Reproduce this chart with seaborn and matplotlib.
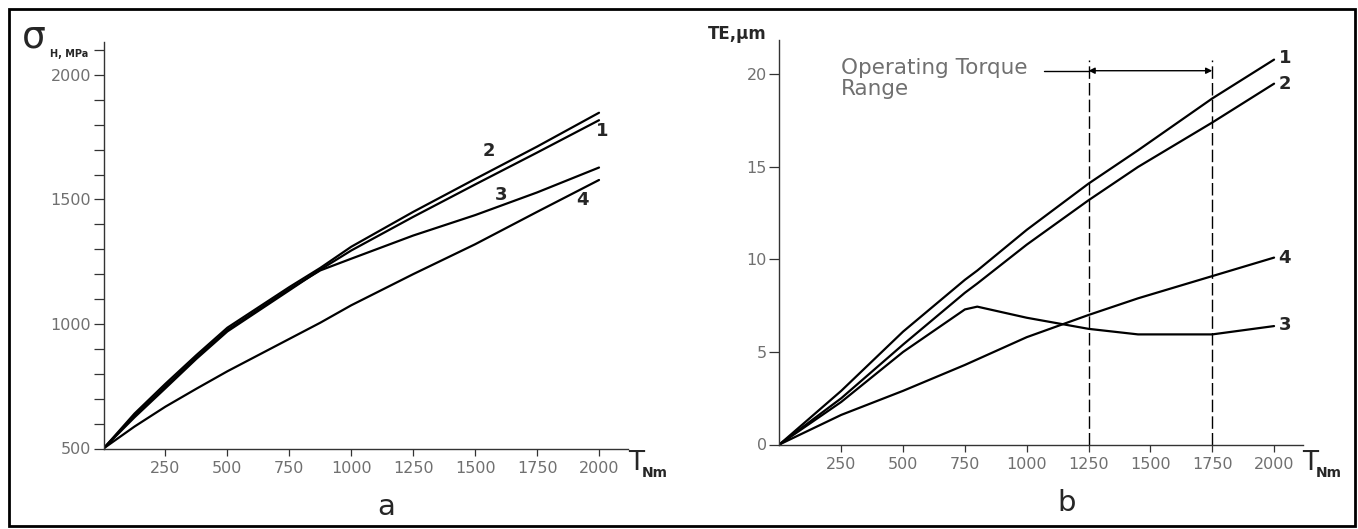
import matplotlib

matplotlib.use("Agg")
import matplotlib.pyplot as plt
import pandas as pd
import seaborn as sns
from matplotlib.patches import Rectangle
from matplotlib.ticker import MultipleLocator

# Panel a: contact stress sigma_H (MPa) against torque T (Nm)
torque_a = [0, 125, 250, 375, 500, 750, 875, 1000, 1250, 1500, 1750, 2000]
stress_1 = [500, 625, 742, 860, 970, 1135, 1218, 1295, 1430, 1560, 1688, 1818]
stress_2 = [500, 640, 760, 875, 985, 1148, 1225, 1310, 1450, 1582, 1712, 1848]
stress_3 = [500, 632, 750, 866, 976, 1140, 1215, 1262, 1355, 1437, 1528, 1628]
stress_4 = [500, 588, 668, 740, 810, 940, 1005, 1075, 1200, 1320, 1450, 1578]

# Panel b: transmission error TE (um) against torque T (Nm)
torque_b = [0, 250, 500, 750, 800, 1000, 1250, 1450, 1750, 2000]
te_1 = [0, 2.9, 6.1, 8.9, 9.4, 11.6, 14.1, 15.9, 18.7, 20.8]
te_2 = [0, 2.5, 5.4, 8.2, 8.7, 10.8, 13.2, 15.0, 17.4, 19.5]
te_3 = [0, 2.3, 5.0, 7.3, 7.45, 6.85, 6.25, 5.95, 5.95, 6.4]
te_4 = [0, 1.6, 2.9, 4.3, 4.6, 5.8, 7.0, 7.9, 9.1, 10.1]

curve_names = ["1", "2", "3", "4"]
torque_ticks = [250, 500, 750, 1000, 1250, 1500, 1750, 2000]
stress_ticks = [500, 1000, 1500, 2000]
te_ticks = [0, 5, 10, 15, 20]
operating_range = [1250, 1750]

W, H = 1358, 529
GREY = "#707070"


def px(x, y):
    return x / W, 1 - y / H


def long_frame(torque, series, value_name):
    rows = []
    for name, values in zip(curve_names, series):
        for t, v in zip(torque, values):
            rows.append({"T": t, value_name: v, "curve": name})
    return pd.DataFrame(rows)


def style_axes(ax):
    for side in ["top", "right"]:
        ax.spines[side].set_visible(False)
    for side in ["left", "bottom"]:
        ax.spines[side].set_linewidth(1.0)
        ax.spines[side].set_color("#333333")
    ax.tick_params(axis="x", length=5, width=0.9, pad=4, colors="#333333",
                   labelcolor=GREY, labelsize=11.5)
    ax.tick_params(axis="y", length=7, width=0.9, pad=2, colors="#333333",
                   labelcolor=GREY, labelsize=11.5)
    ax.tick_params(axis="y", which="minor", length=7, width=0.9, colors="#333333")
    ax.set_xlabel("")
    ax.set_ylabel("")
    ax.set_xticks(torque_ticks)
    ax.set_xlim(0, 2117)


sns.set_style("ticks")
plt.rcParams["font.family"] = ["DejaVu Sans"]

df_a = long_frame(torque_a, [stress_1, stress_2, stress_3, stress_4], "sigma")
df_b = long_frame(torque_b, [te_1, te_2, te_3, te_4], "TE")

fig = plt.figure(figsize=(W / 100, H / 100), dpi=100)
ax_a = fig.add_axes([103.5 / W, 1 - 448.5 / H, (628 - 103.5) / W, (448.5 - 42) / H])
ax_b = fig.add_axes([779.4 / W, 1 - 444.5 / H, (1303 - 779.4) / W, (444.5 - 40) / H])

sns.lineplot(data=df_a, x="T", y="sigma", units="curve", estimator=None,
             color="black", lw=1.6, ax=ax_a)
sns.lineplot(data=df_b, x="T", y="TE", units="curve", estimator=None,
             color="black", lw=1.6, ax=ax_b)

style_axes(ax_a)
ax_a.set_ylim(500, 2132)
ax_a.set_yticks(stress_ticks)
ax_a.yaxis.set_minor_locator(MultipleLocator(100))

style_axes(ax_b)
ax_b.set_ylim(0, 21.86)
ax_b.set_yticks(te_ticks)

# curve numbers
lab = dict(fontsize=13, fontweight="bold", ha="center", va="center")
for name, (t, s) in zip(curve_names, [(2014, 1773), (1554, 1695), (1606, 1518), (1934, 1499)]):
    ax_a.text(t, s, name, **lab)
for name, (t, s) in zip(curve_names, [(2043, 20.9), (2043, 19.5), (2043, 6.45), (2043, 10.1)]):
    ax_b.text(t, s, name, **lab)

# operating torque range
for x in operating_range:
    ax_b.plot([x, x], [0, 20.8], color="black", lw=1.0, linestyle=(0, (9, 3)))
ax_b.plot([1068, operating_range[0]], [20.2, 20.2], color="black", lw=1.0)
ax_b.annotate("", xy=(operating_range[0], 20.2), xytext=(operating_range[1], 20.2),
              arrowprops=dict(arrowstyle="<|-|>", color="black", lw=1.0,
                              mutation_scale=9, shrinkA=0, shrinkB=0))
ax_b.text(248, 20.9, "Operating Torque\nRange", fontsize=15.5, color=GREY,
          ha="left", va="top", linespacing=1.05)

# axis titles
fig.text(*px(22, 37), "σ", fontsize=27, ha="left", va="center")
fig.text(*px(50, 54), "H, MPa", fontsize=7, fontweight="bold", ha="left", va="center")
fig.text(*px(708, 34), "TE,μm", fontsize=12, fontweight="bold", ha="left", va="center")
for x0 in (628, 1302):
    fig.text(*px(x0, 463), "T", fontsize=19, ha="left", va="center")
    fig.text(*px(x0 + 14, 473), "Nm", fontsize=10, fontweight="bold", ha="left", va="center")

fig.text(*px(386, 507), "a", fontsize=21, ha="center", va="center")
fig.text(*px(1067, 503), "b", fontsize=21, ha="center", va="center")

fig.add_artist(Rectangle(px(9, 526), (1355 - 9) / W, (526 - 9) / H, fill=False,
                         lw=2.0, edgecolor="black", transform=fig.transFigure))

fig.savefig("out.png", dpi=100)
